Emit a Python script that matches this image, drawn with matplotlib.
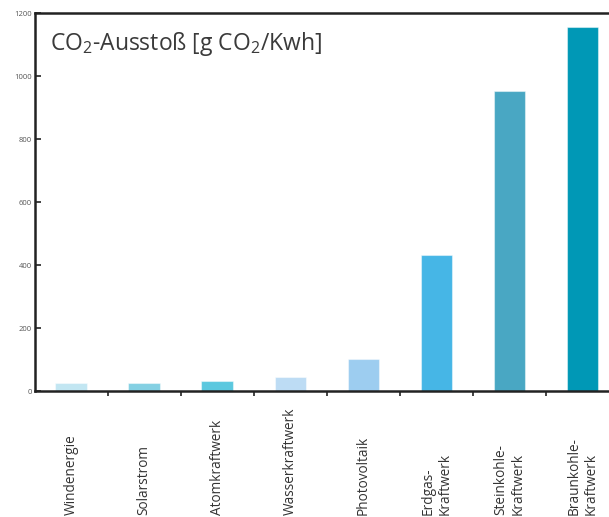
import numpy as np
import matplotlib.pyplot as plt
from matplotlib.transforms import blended_transform_factory

plt.rcParams['font.family'] = ['Open Sans', 'DejaVu Sans']
plt.rcParams['mathtext.default'] = 'regular'

categories = ['Windenergie', 'Solarstrom', 'Atomkraftwerk', 'Wasserkraftwerk',
              'Photovoltaik', 'Erdgas-\nKraftwerk', 'Steinkohle-\nKraftwerk',
              'Braunkohle-\nKraftwerk']
co2 = [26, 26, 33, 43, 101, 432, 952, 1155]
colors = ['#c2e6f2', '#84d0e3', '#5bc8df', '#bddcf4',
          '#9dcdf0', '#46b6e6', '#49a7c3', '#0098b6']
yticks = [0, 200, 400, 600, 800, 1000, 1200]

fig = plt.figure(figsize=(6.09, 5.17), dpi=100)
ax = fig.add_axes([0.0567, 0.2437, 0.9598, 0.7311])

x = np.arange(len(categories))
ax.bar(x, co2, width=0.43, color=colors, edgecolor=(1, 1, 1, 0.45),
       linewidth=0.8, zorder=1)

ax.set_xlim(-0.5, len(categories) - 0.5)
ax.set_ylim(0, 1200)

# frame: left, top, bottom only
ax.spines['right'].set_visible(False)
for side in ['left', 'top', 'bottom']:
    ax.spines[side].set_linewidth(1.8)
    ax.spines[side].set_color('#222222')

ax.set_yticks(yticks)
ax.set_yticklabels([str(v) for v in yticks], fontsize=5.5, color='#555555')
ax.tick_params(axis='y', direction='in', length=4, width=1.2, pad=2,
               color='#222222')

# ticks between the groups, labels set separately below
ax.set_xticks(x[:-1] + 0.5)
ax.set_xticklabels([])
ax.tick_params(axis='x', direction='out', length=3.5, width=1.2,
               color='#222222')

trans = blended_transform_factory(ax.transData, fig.transFigure)
for xi, name in zip(x, categories):
    ax.text(xi, 0.004, name, transform=trans, rotation=90, ha='center',
            va='bottom', multialignment='left', fontsize=9.8, color='#333333',
            linespacing=1.2)

ax.text(0.027, 0.955, 'CO$_2$-Ausstoß [g CO$_2$/Kwh]', transform=ax.transAxes,
        ha='left', va='top', fontsize=16.5, color='#3a3a3a')

fig.savefig('out.png', dpi=100)
